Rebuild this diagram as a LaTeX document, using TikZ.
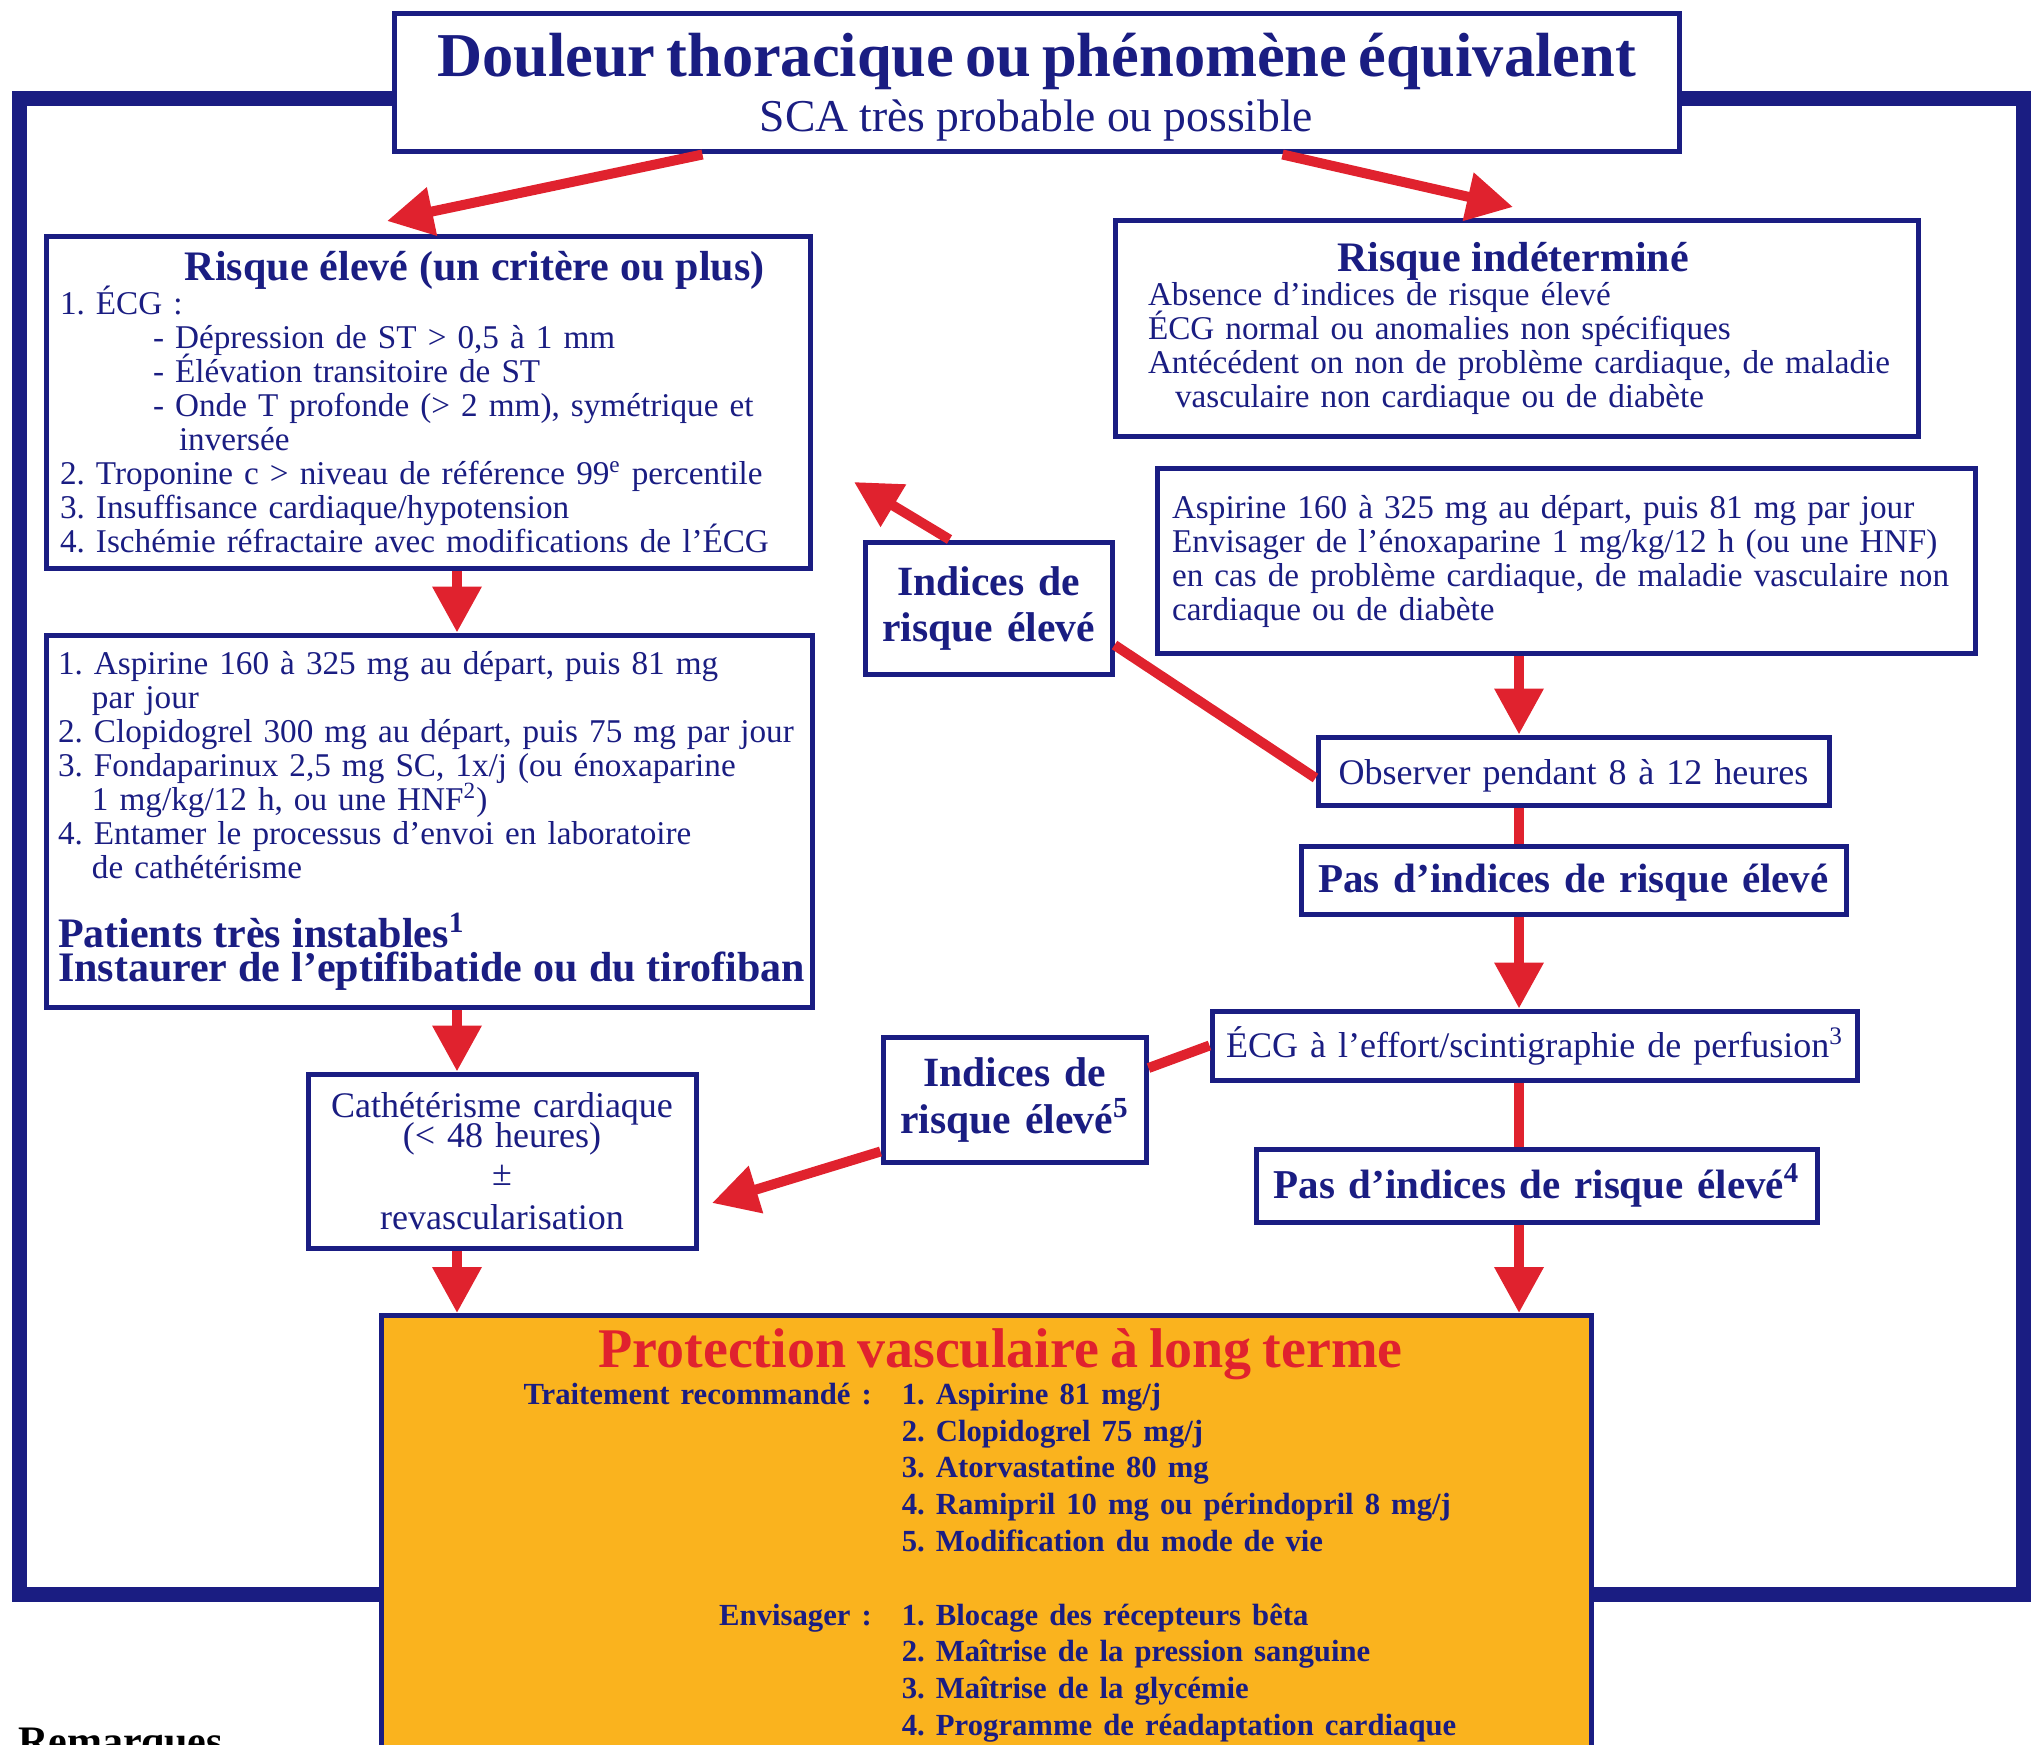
\documentclass[tikz,border=0pt]{standalone}
\usepackage{fontspec}
\setmainfont{Liberation Serif}
\usepackage{xcolor}
\usepackage{tikz}
\usetikzlibrary{arrows.meta,calc}
\definecolor{navy}{RGB}{26,29,130}
\definecolor{sred}{RGB}{224,34,46}
\definecolor{gold}{RGB}{250,179,30}
\newcommand{\txtfont}{\fontsize{16.6}{17}\selectfont}
\newcommand{\midfont}{\fontsize{18}{18}\selectfont}
\newcommand{\hdfont}{\bfseries\fontsize{21}{17}\selectfont}
\newcommand{\indfont}{\bfseries\fontsize{20.8}{23}\selectfont}
\newcommand{\pasfont}{\bfseries\fontsize{20.5}{21}\selectfont}
\newcommand{\boxlead}{17pt}
\newcommand{\boxextra}{}
\frenchspacing

\begin{document}
\begin{tikzpicture}[x=0.5pt,y=-0.5pt,
	box/.style={draw=navy, line width=2.5pt, fill=white, text=navy, inner sep=0pt, font=\txtfont,
		execute at begin node={\lineskiplimit=-30pt\baselineskip=\boxlead\boxextra}},
	txtlead/.code={\def\boxlead{#1}},
	txtpad/.code={\def\boxextra{\leftskip=#1\relax}},
	lbox/.style={box, align=left, txtpad=#1},
	cbox/.style={box, align=center},
	size/.style n args={2}{minimum width=#1, text width=#1, minimum height=#2},
	oneline/.style={text height=#1, text depth=0pt},
	arr/.style={draw=sred, line width=5pt, -{Triangle[length=23pt,width=23.5pt]}},
	link/.style={draw=sred, line width=5pt}]
	\useasboundingbox (0,0) rectangle (2038,1744);
	\clip (0,0) rectangle (2038,1744);
	\draw[navy, line width=7.5pt] (19,98.5) rectangle (2023,1594);

	\node[cbox, size={642.5pt}{69pt}, txtlead=27.5pt, text depth=28.4pt] (title) at (1036.5,83)
		{{\bfseries\fontsize{31.2}{30}\selectfont Douleur thoracique ou phénomène équivalent}\\
		\fontsize{22.8}{27.5}\selectfont SCA très probable ou possible};
	\node[lbox=7pt, size={382pt}{165.5pt}] (rhigh) at (428,402.5)
		{\hspace*{62.5pt}{\hdfont Risque élevé (un critère ou plus)}\\
		1. ÉCG :\\
		\hspace*{46.5pt}- Dépression de ST > 0,5 à 1 mm\\
		\hspace*{46.5pt}- Élévation transitoire de ST\\
		\hspace*{46.5pt}- Onde T profonde (> 2 mm), symétrique et\\
		\hspace*{59.5pt}inversée\\
		2. Troponine c > niveau de référence 99\textsuperscript{e} percentile\\
		3. Insuffisance cardiaque/hypotension\\
		4. Ischémie réfractaire avec modifications de l’ÉCG};
	\node[lbox=16.5pt, size={401.5pt}{107.5pt}] (rind) at (1516.5,328.5)
		{\hspace*{94.5pt}{\hdfont Risque indéterminé}\\
		Absence d’indices de risque élevé\\
		ÉCG normal ou anomalies non spécifiques\\
		Antécédent on non de problème cardiaque, de maladie\\
		\hspace*{13.5pt}vasculaire non cardiaque ou de diabète};
	\node[lbox=7.5pt, size={409pt}{92.5pt}] (asp) at (1566,561)
		{Aspirine 160 à 325 mg au départ, puis 81 mg par jour\\
		Envisager de l’énoxaparine 1 mg/kg/12 h (ou une HNF)\\
		en cas de problème cardiaque, de maladie vasculaire non\\
		cardiaque ou de diabète};
	\node[cbox, size={123.5pt}{66pt}, font=\indfont, txtlead=23pt] (ind1) at (988.5,608) {Indices de\\risque élevé};
	\node[lbox=6pt, size={383pt}{186pt}] (treat) at (429,821)
		{1. Aspirine 160 à 325 mg au départ, puis 81 mg\\
		\hspace*{17pt}par jour\\
		2. Clopidogrel 300 mg au départ, puis 75 mg par jour\\
		3. Fondaparinux 2,5 mg SC, 1x/j (ou énoxaparine\\
		\hspace*{17pt}1 mg/kg/12 h, ou une HNF\textsuperscript{2})\\
		4. Entamer le processus d’envoi en laboratoire\\
		\hspace*{17pt}de cathétérisme\\[17pt]
		\bfseries\fontsize{21}{17.5}\selectfont Patients très instables\textsuperscript{1}\\
		Instaurer de l’eptifibatide ou du tirofiban};
	\node[cbox, size={255.5pt}{34pt}, font=\midfont, oneline=13pt] (obs) at (1573.5,771) {Observer pendant 8 à 12 heures};
	\node[cbox, size={272.5pt}{34pt}, font=\pasfont, oneline=12pt] (pas1) at (1573.5,880) {Pas d’indices de risque élevé};
	\node[cbox, size={322.5pt}{34.5pt}, font=\midfont, oneline=11.5pt] (ecg) at (1534.5,1045.5)
		{ÉCG à l’effort/scintigraphie de perfusion\textsuperscript{3}};
	\node[cbox, size={131.5pt}{62.5pt}, font=\indfont, txtlead=23.5pt] (ind2) at (1014.5,1099.5)
		{Indices de\\risque élevé\textsuperscript{5}};
	\node[cbox, size={194pt}{87pt}, font=\midfont, txtlead=15pt] (cath) at (502,1161)
		{Cathétérisme cardiaque\\(< 48 heures)\\[4pt]±\\[7pt]revascularisation};
	\node[cbox, size={280.5pt}{36.5pt}, font=\pasfont, oneline=12.5pt] (pas2) at (1536.5,1185.5)
		{Pas d’indices de risque élevé\textsuperscript{4}};
	\node[box, fill=gold, align=left, anchor=north west, minimum width=605pt, text width=605pt, text depth=240pt, txtlead=18.4pt] (prot) at (379,1313)
		{\rule{0pt}{26pt}\hspace*{108.5pt}{\color{sred}\bfseries\fontsize{28}{28}\selectfont Protection vasculaire à long terme}\\
		\bfseries\fontsize{15.35}{18.4}\selectfont\lineskiplimit=0pt\hspace*{71pt}\begin{tabular}[t]{@{}r@{\hspace{15pt}}l@{}}
			Traitement recommandé : & 1. Aspirine 81 mg/j\\
			& 2. Clopidogrel 75 mg/j\\
			& 3. Atorvastatine 80 mg\\
			& 4. Ramipril 10 mg ou périndopril 8 mg/j\\
			& 5. Modification du mode de vie\\
			& \\
			Envisager : & 1. Blocage des récepteurs bêta\\
			& 2. Maîtrise de la pression sanguine\\
			& 3. Maîtrise de la glycémie\\
			& 4. Programme de réadaptation cardiaque
		\end{tabular}};
	\node[anchor=base west, inner sep=0pt, font=\bfseries\fontsize{21}{21}\selectfont] (notes) at (18,1755) {Remarques};

	\coordinate (lcol) at (457,0);
	\coordinate (rcol) at (1519,0);
	\coordinate (tipA) at (387,221);
	\coordinate (tipB) at (1513,207);
	\coordinate (tipC) at (854,482);
	\coordinate (tipD) at (712,1203);

	\draw[arr] ([xshift=155.5pt]title.south west) -- (tipA);
	\draw[arr] ([xshift=445.5pt]title.south west) -- (tipB);
	\draw[arr] (rhigh.south -| lcol) -- (treat.north -| lcol);
	\draw[arr] (treat.south -| lcol) -- (cath.north -| lcol);
	\draw[arr] (cath.south -| lcol) -- (prot.north -| lcol);
	\draw[arr] ([xshift=43.5pt]ind1.north west) -- (tipC);
	\draw[link] ([yshift=-3.5pt]obs.west) -- ([yshift=-18.5pt]ind1.east);
	\draw[arr] (asp.south -| rcol) -- (obs.north -| rcol);
	\draw[link] (obs.south -| rcol) -- (pas1.north -| rcol);
	\draw[arr] (pas1.south -| rcol) -- (ecg.north -| rcol);
	\draw[link] (ecg.south -| rcol) -- (pas2.north -| rcol);
	\draw[arr] (pas2.south -| rcol) -- (prot.north -| rcol);
	\draw[link] (ecg.west) -- ([yshift=15.75pt]ind2.east);
	\draw[arr] ([yshift=-26pt]ind2.west) -- (tipD);
\end{tikzpicture}
\end{document}
